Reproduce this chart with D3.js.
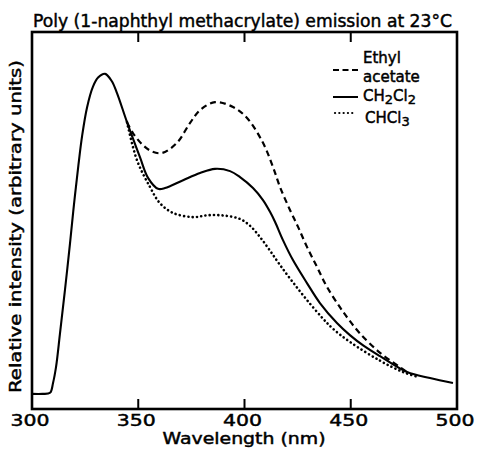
<!DOCTYPE html>
<html>
<head>
<meta charset="utf-8">
<script src="https://cdn.jsdelivr.net/npm/d3@7"></script>
<style>
body{margin:0;background:#fff;}
svg text{font-family:"DejaVu Sans",sans-serif;fill:#000;stroke:#000;stroke-width:0.45px;}
</style>
</head>
<body>
<div id="chart"></div>
<script>
//emission spectra, wavelength in nm, intensity in arbitrary units (0..100 = frame height)
var titleText="Poly (1-naphthyl methacrylate) emission at 23\u00b0C";
var xTicks=[300,350,400,450,500];
var topTicks=[350,400,450];
//CH2Cl2 (solid)
var wlCH2Cl2=[300,305,308.5,309.9,311.3,313.2,315.5,317.9,319.8,321.8,323.6,325.9,328.7,331.1,334.4,337.5,340,344.7,350.8,354.6,359.3,362.6,371.1,379.1,386.1,393.2,397.9,404,408.7,412,414.4,418.1,422.8,429.4,435.5,443.5,449.6,456,463.8,476.5,487.3,498.1];
var iCH2Cl2=[4.0,4.0,4.3,6.9,11.1,20.2,31.5,44.0,54.5,64.5,72.5,80.0,85.5,87.9,88.9,87.0,83.8,76.1,66.8,61.3,58.4,58.6,60.7,62.6,63.7,63.1,61.5,58.6,55.4,52.3,49.6,44.8,39.5,33.4,28.1,22.8,19.6,16.8,14.0,9.8,8.2,6.9];
//ethyl acetate (dashed)
var wlEthyl=[344.7,347.5,352.2,356.5,361.2,368.2,374.4,379.1,386.1,394.6,401.2,408.7,413.4,416.7,421.4,425.2,429.4,434.1,438.8,444.9,448.7,454.4,463.8,473.2,476.5];
var iEthyl=[76.1,73.2,70.0,68.3,67.9,70.6,75.9,79.3,81.4,80.1,77.2,70.6,64.2,58.9,52.8,48.3,43.0,37.7,32.4,27.0,24.0,20.0,14.9,11.1,9.8];
//CHCl3 (dotted)
var wlCHCl3=[344.7,349.4,355.5,360.2,366.4,375.8,383,390.5,397.9,402.6,407.3,412,416.7,422.8,429.4,436.9,441.6,449.6,463.8,474.6,481.6];
var iCHCl3=[76.1,66.0,58.9,54.6,52.0,50.9,51.4,51.3,50.4,48.6,45.6,42.0,38.2,33.6,28.9,24.0,21.3,17.8,12.8,9.8,8.5];
var legendLabels=[["Ethyl","acetate"],["CH","2","Cl","2"],["CHCl","3"]];

var width=478,height=449;
var svg=d3.select("#chart").append("svg")
	.attr("width",width)
	.attr("height",height);
var x=d3.scaleLinear().domain([300,500]).range([32,457]);
var y=d3.scaleLinear().domain([0,100]).range([409,32]);

//title
svg.append("text")
	.attr("x",33).attr("y",27)
	.attr("font-size","17px")
	.attr("textLength",419).attr("lengthAdjust","spacingAndGlyphs")
	.text(titleText);

//curves
var line=d3.line()
	.x(function(d){return x(d[0]);})
	.y(function(d){return y(d[1]);})
	.curve(d3.curveCatmullRom.alpha(0.5));
var zip=function(a,b){return a.map(function(v,i){return [v,b[i]];});};
svg.append("path").datum(zip(wlCHCl3,iCHCl3))
	.attr("d",line).attr("fill","none").attr("stroke","#000")
	.attr("stroke-width",2.6).attr("stroke-linecap","round")
	.attr("stroke-dasharray","0.1,4.2");
svg.append("path").datum(zip(wlEthyl,iEthyl))
	.attr("d",line).attr("fill","none").attr("stroke","#000")
	.attr("stroke-width",2.2)
	.attr("stroke-dasharray","6,4");
svg.append("path").datum(zip(wlCH2Cl2,iCH2Cl2))
	.attr("d",line).attr("fill","none").attr("stroke","#000")
	.attr("stroke-width",2.1);

//frame
svg.append("rect")
	.attr("x",x(300)).attr("y",y(100))
	.attr("width",x(500)-x(300)).attr("height",y(0)-y(100))
	.attr("fill","none").attr("stroke","#000").attr("stroke-width",2.6);
//inward ticks
svg.append("g").selectAll("line").data(xTicks.slice(1,-1)).enter().append("line")
	.attr("x1",function(d){return x(d);}).attr("x2",function(d){return x(d);})
	.attr("y1",y(0)).attr("y2",y(0)-10)
	.attr("stroke","#000").attr("stroke-width",2);
svg.append("g").selectAll("line").data(topTicks).enter().append("line")
	.attr("x1",function(d){return x(d);}).attr("x2",function(d){return x(d);})
	.attr("y1",y(100)).attr("y2",y(100)+10)
	.attr("stroke","#000").attr("stroke-width",2);
//tick labels
svg.append("g").selectAll("text").data(xTicks).enter().append("text")
	.attr("x",function(d){return x(d)-2;}).attr("y",426)
	.attr("text-anchor","middle")
	.attr("font-size","16px")
	.attr("textLength",39).attr("lengthAdjust","spacingAndGlyphs")
	.text(function(d){return d;});
svg.append("text")
	.attr("x",244).attr("y",444)
	.attr("text-anchor","middle")
	.attr("font-size","15px")
	.attr("textLength",163).attr("lengthAdjust","spacingAndGlyphs")
	.text("Wavelength (nm)");
svg.append("text")
	.attr("transform","translate(21,393) rotate(-90)")
	.attr("font-size","15px")
	.attr("textLength",333).attr("lengthAdjust","spacingAndGlyphs")
	.text("Relative intensity (arbitrary units)");

//legend
var lg=svg.append("g");
lg.append("line").attr("x1",333).attr("x2",358).attr("y1",70).attr("y2",70)
	.attr("stroke","#000").attr("stroke-width",2).attr("stroke-dasharray","6,3.5");
lg.append("line").attr("x1",333).attr("x2",358).attr("y1",97).attr("y2",97)
	.attr("stroke","#000").attr("stroke-width",2);
lg.append("line").attr("x1",335).attr("x2",354).attr("y1",113).attr("y2",113)
	.attr("stroke","#000").attr("stroke-width",2.2).attr("stroke-linecap","round")
	.attr("stroke-dasharray","0.1,4.2");
lg.append("text").attr("x",363).attr("y",63).attr("font-size","15px").text(legendLabels[0][0]);
lg.append("text").attr("x",363).attr("y",82).attr("font-size","15px").text(legendLabels[0][1]);
var t2=lg.append("text").attr("x",363).attr("y",101).attr("font-size","15px");
t2.append("tspan").text(legendLabels[1][0]);
t2.append("tspan").attr("dy",3).attr("font-size","13px").text(legendLabels[1][1]);
t2.append("tspan").attr("dy",-3).text(legendLabels[1][2]);
t2.append("tspan").attr("dy",3).attr("font-size","13px").text(legendLabels[1][3]);
var t3=lg.append("text").attr("x",365).attr("y",123).attr("font-size","15px");
t3.append("tspan").text(legendLabels[2][0]);
t3.append("tspan").attr("dy",3).attr("font-size","13px").text(legendLabels[2][1]);
</script>
</body>
</html>
